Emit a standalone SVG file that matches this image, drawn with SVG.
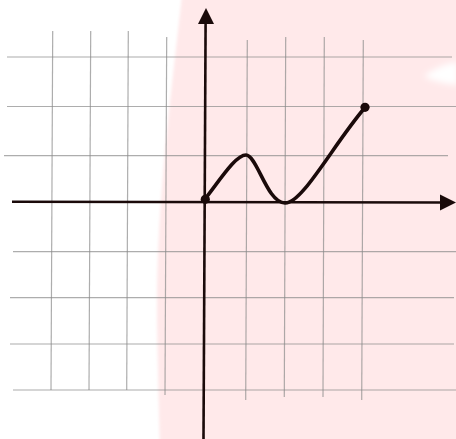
<svg xmlns="http://www.w3.org/2000/svg" width="456" height="439" viewBox="0 0 456 439">
<defs>
<filter id="soft" x="-10%" y="-10%" width="120%" height="120%"><feGaussianBlur stdDeviation="1.5"/></filter>
<filter id="soft2" x="-50%" y="-50%" width="200%" height="200%"><feGaussianBlur stdDeviation="3"/></filter>
<style>
.grid{stroke:#8a8a8a;stroke-opacity:0.7;stroke-width:1.2;fill:none}
.axis{stroke:#1a0a0a;stroke-width:2.6;fill:none}
.curve{stroke:#1a0a0a;stroke-width:3.6;fill:none;stroke-linecap:round}
.dot{fill:#1a0a0a}
.head{fill:#1a0a0a}
</style>
</defs>
<rect width="456" height="439" fill="#ffffff"/>
<g id="background">
<path d="M182,-5 C173,80 156,200 157,320 C158,380 160,445 160,445 L460,445 L460,-5 Z" fill="#ffe9ea" filter="url(#soft)"/>
<path d="M424,76 C432,70 445,63 458,62 L458,85 C445,84 432,81 424,76 Z" fill="#ffffff" filter="url(#soft2)"/>
</g>
<g id="grid">
<line class="grid" x1="52.7" y1="31" x2="51" y2="390"/>
<line class="grid" x1="90.7" y1="31" x2="89" y2="390"/>
<line class="grid" x1="128.3" y1="31" x2="126.7" y2="390"/>
<line class="grid" x1="166.7" y1="37" x2="165" y2="395"/>
<line class="grid" x1="247.3" y1="40" x2="245.7" y2="400"/>
<line class="grid" x1="285.7" y1="37" x2="284.3" y2="397"/>
<line class="grid" x1="324.3" y1="37" x2="323" y2="397"/>
<line class="grid" x1="363.3" y1="40" x2="361.7" y2="400"/>
<line class="grid" x1="7" y1="57" x2="452" y2="57"/>
<line class="grid" x1="7" y1="106.5" x2="456" y2="106.5"/>
<line class="grid" x1="4" y1="155.7" x2="448" y2="155.7"/>
<line class="grid" x1="13" y1="251.7" x2="456" y2="251.7"/>
<line class="grid" x1="10" y1="297.7" x2="454" y2="297.7"/>
<line class="grid" x1="10" y1="344" x2="454" y2="344"/>
<line class="grid" x1="13" y1="390" x2="456" y2="390"/>
</g>
<g id="axes">
<line class="axis" x1="12" y1="201.7" x2="442" y2="202.5"/>
<polygon class="head" points="440,194.5 456,202.5 440,210.5"/>
<line class="axis" x1="205.6" y1="22" x2="203.5" y2="439"/>
<polygon class="head" points="198,24 206,8 214,24"/>
</g>
<g id="graph">
<path class="curve" d="M205,199 C222,177 236,155 246,155 C257,155 267,203 285,203 C302,204 333,145 365,107.5"/>
<circle class="dot" cx="205.3" cy="199.3" r="4.6"/>
<circle class="dot" cx="365" cy="107.3" r="4.6"/>
</g>
</svg>
